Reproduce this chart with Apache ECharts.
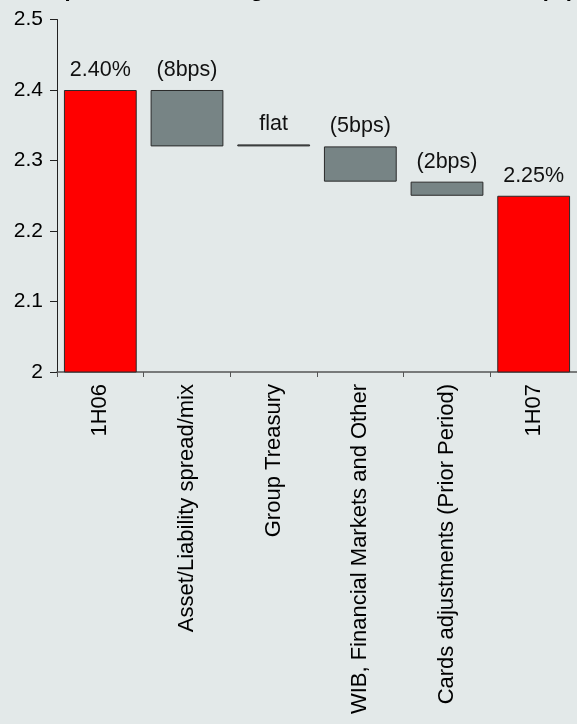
<!DOCTYPE html>
<html>
<head>
<meta charset="utf-8">
<script src="https://cdn.jsdelivr.net/npm/echarts@6/dist/echarts.min.js"></script>
<style>
html,body{margin:0;padding:0;background:#e3e9e9;}
#chart{width:577px;height:724px;}
</style>
</head>
<body>
<div id="chart"></div>
<script>
var titleText = 'Group Net Interest Margin Movement 1H06 \u2013 1H07 (%)';
var categories = ['1H06', 'Asset/Liability spread/mix', 'Group Treasury', 'WIB, Financial Markets and Other', 'Cards adjustments (Prior Period)', '1H07'];
var startValues = [0, 2.40, 2.32, 2.32, 2.27, 0];
var endValues = [2.40, 2.32, 2.32, 2.27, 2.25, 2.25];
var valueLabels = ['2.40%', '(8bps)', 'flat', '(5bps)', '(2bps)', '2.25%'];
var isTotal = [true, false, false, false, false, true];
var yTicks = [2, 2.1, 2.2, 2.3, 2.4, 2.5];

var baseData = [], deltaData = [];
for (var i = 0; i < categories.length; i++) {
  var lo = Math.min(startValues[i], endValues[i]);
  var hi = Math.max(startValues[i], endValues[i]);
  baseData.push(+lo.toFixed(4));
  deltaData.push({
    value: +(hi - lo).toFixed(4),
    itemStyle: { color: isTotal[i] ? '#ff0000' : '#778485' },
    label: { formatter: valueLabels[i] }
  });
}

var chart = echarts.init(document.getElementById('chart'), null, {renderer: 'canvas'});
chart.setOption({
  backgroundColor: '#e3e9e9',
  animation: false,
  textStyle: { fontFamily: 'Liberation Sans, Arial, sans-serif' },
  graphic: [{
    type: 'text',
    left: 12,
    top: -21,
    style: {
      text: titleText,
      font: 'bold 22px "Liberation Sans", Arial, sans-serif',
      fill: '#000'
    }
  }],
  grid: { left: 57, right: 0, top: 19.5, bottom: 352, containLabel: false },
  xAxis: {
    type: 'category',
    data: categories,
    axisLine: { lineStyle: { color: '#555', width: 1.5 } },
    axisTick: { show: true, length: 5, lineStyle: { color: '#555' } },
    axisLabel: {
      rotate: 90,
      interval: 0,
      margin: 12,
      fontSize: 22,
      color: '#000',
      fontFamily: 'Liberation Sans, Arial, sans-serif'
    }
  },
  yAxis: {
    type: 'value',
    min: yTicks[0],
    max: yTicks[yTicks.length - 1],
    interval: 0.1,
    splitLine: { show: false },
    axisLine: { show: true, lineStyle: { color: '#222' } },
    axisTick: { show: true, length: 7, lineStyle: { color: '#222' } },
    axisLabel: {
      fontSize: 21,
      color: '#000',
      margin: 14,
      formatter: function (v) { return String(+v.toFixed(1)); }
    }
  },
  series: [{
    type: 'bar',
    stack: 'w',
    data: baseData,
    itemStyle: { color: 'transparent' },
    barCategoryGap: '16%',
    silent: true
  }, {
    type: 'bar',
    stack: 'w',
    data: deltaData,
    barMinHeight: 2,
    barCategoryGap: '16%',
    itemStyle: { borderColor: '#2a2a2a', borderWidth: 1 },
    label: {
      show: true,
      position: 'top',
      distance: 9,
      fontSize: 21.5,
      color: '#111'
    }
  }]
});
</script>
</body>
</html>
